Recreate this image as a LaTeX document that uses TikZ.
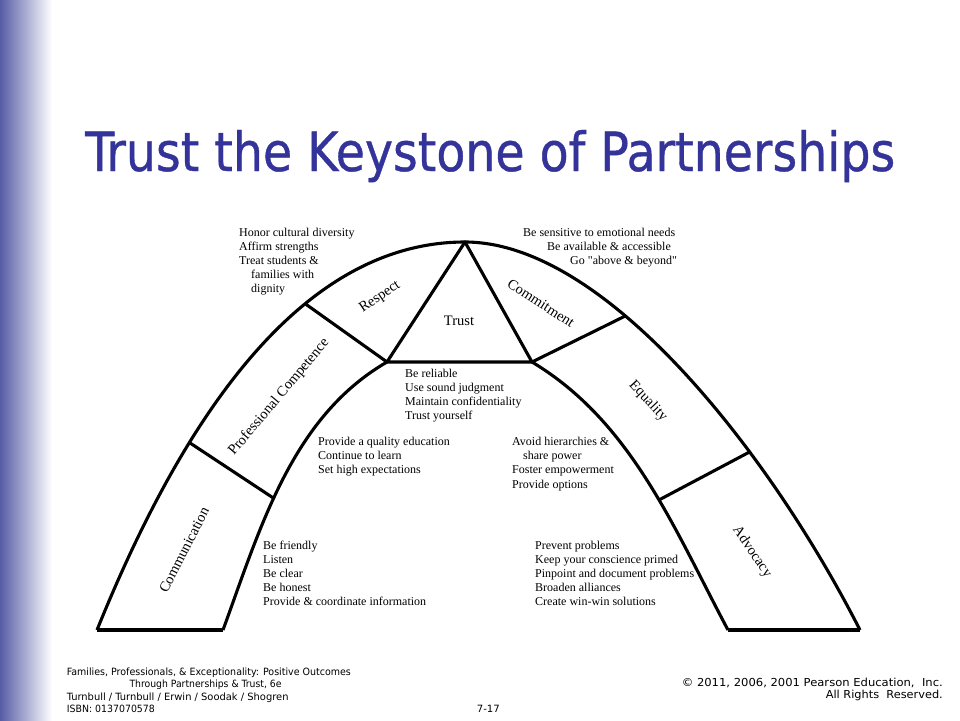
\documentclass[tikz,border=0pt]{standalone}
\usepackage{fontspec}
\usepackage{graphicx}
\setmainfont{Liberation Serif}
\IfFontExistsTF{DejaVu Sans Condensed}{\newfontfamily\sansf{DejaVu Sans Condensed}}{\newfontfamily\sansf{DejaVu Sans}}
\IfFontExistsTF{DejaVu Sans Condensed}{\newfontfamily\titlef[FakeBold=0.7]{DejaVu Sans Condensed}}{\newfontfamily\titlef[FakeBold=0.7]{DejaVu Sans}}
\newfontfamily\sansw{DejaVu Sans}
\definecolor{titleblue}{RGB}{51,51,153}
\definecolor{barblue}{RGB}{86,92,166}
\tikzset{
  archline/.style={line width=3.1pt, line join=round},
  dtext/.style={font=\fontsize{12}{14}\selectfont, inner sep=0pt, anchor=base west},
  lbl/.style={font=\fontsize{14.5}{16}\selectfont, inner sep=0pt},
  foot/.style={font=\sansf\fontsize{10}{12}\selectfont, inner sep=0pt},
  foottwo/.style={font=\sansw\fontsize{11}{12}\selectfont, inner sep=0pt},
}
\newcommand\fitw[2]{\resizebox{#1}{\height}{#2}}
\newcommand\tblock[4]{\foreach \tline [count=\i] in {#4}{\node[dtext] (#1\i) at (#2,{#3+14.2*(\i-1)}) {\tline};}}
\newcommand\sq{{\addfontfeatures{Ligatures=TeXOff}"}}
\begin{document}
\begin{tikzpicture}[x=1pt,y=-1pt]
\useasboundingbox (0,0) rectangle (960,720);
\fill[white] (0,0) rectangle (960,720);
\shade[left color=barblue, right color=white] (0,0) rectangle (52,720);

% title
\node[anchor=base west, inner sep=0pt, text=titleblue, font=\titlef\fontsize{54}{60}\selectfont] (title) at (85,171) {\fitw{810pt}{Trust the Keystone of Partnerships}};

% key points
\coordinate (oBL) at (97,630);
\coordinate (iBL) at (223,630);
\coordinate (oBR) at (860,630);
\coordinate (iBR) at (728,630);
\coordinate (apex) at (465,242);
\coordinate (tL) at (387,362);
\coordinate (tR) at (532,362);

% outer arch
\draw[archline] (oBL) .. controls (177.6,430.7) and (295,242) .. (apex)
  coordinate[pos=0.33] (oPC) coordinate[pos=0.65] (oRS);
\draw[archline] (apex) .. controls (605,242) and (769.2,451.8) .. (oBR)
  coordinate[pos=0.37] (oCM) coordinate[pos=0.67] (oAD);
% inner arch
\draw[archline] (iBL) .. controls (260.6,527) and (292,417) .. (tL)
  coordinate[pos=0.43] (iPC);
\draw[archline] (tR) .. controls (631.4,421.7) and (673.5,527.6) .. (iBR)
  coordinate[pos=0.57] (iAD);
% keystone
\draw[archline] (tL) -- (apex) -- (tR) -- cycle;
% bottoms
\draw[archline] (oBL) -- (iBL);
\draw[archline] (iBR) -- (oBR);
% dividers
\draw[archline] (oPC) -- (iPC);
\draw[archline] (oRS) -- (tL);
\draw[archline] (oCM) -- (tR);
\draw[archline] (oAD) -- (iAD);

% labels
\node[lbl] (trust) at (459,321) {Trust};
\node[lbl, rotate=34] (respect) at (380,297) {Respect};
\node[lbl, rotate=50] (profcomp) at (279,397) {Professional Competence};
\node[lbl, rotate=63] (comm) at (184,550) {Communication};
\node[lbl, rotate=-33] (commit) at (541,303) {Commitment};
\node[lbl, rotate=-47] (equal) at (648,401) {Equality};
\node[lbl, rotate=-56] (advoc) at (752,552) {Advocacy};

% text blocks
\tblock{resp}{239}{236}{Honor cultural diversity, Affirm strengths, Treat students \&, \hspace*{12pt}families with, \hspace*{12pt}dignity}
\tblock{cmt}{523}{236}{Be sensitive to emotional needs, \hspace*{24pt}Be available \& accessible, \hspace*{47pt}Go \sq above \& beyond\sq}
\tblock{tru}{405}{377}{Be reliable, Use sound judgment, Maintain confidentiality, Trust yourself}
\tblock{pc}{318}{445.5}{Provide a quality education, Continue to learn, Set high expectations}
\tblock{eq}{512}{445.5}{Avoid hierarchies \&, \hspace*{11pt}share power, Foster empowerment, Provide options}
\tblock{com}{263}{549}{Be friendly, Listen, Be clear, Be honest, Provide \& coordinate information}
\tblock{adv}{535}{549}{Prevent problems, Keep your conscience primed, Pinpoint and document problems, Broaden alliances, Create win-win solutions}

% footer
\node[foot, anchor=base west] (f1) at (66.7,675) {\fitw{284pt}{Families, Professionals, \& Exceptionality: Positive Outcomes}};
\node[foot, anchor=base west] (f2) at (129.3,687.5) {\fitw{152pt}{Through Partnerships \& Trust, 6e}};
\node[foot, anchor=base west] (f3) at (66.7,700) {\fitw{221.7pt}{Turnbull / Turnbull / Erwin / Soodak / Shogren}};
\node[foot, anchor=base west] (f4) at (66.7,712.5) {\fitw{88pt}{ISBN: 0137070578}};
\node[foot, anchor=base east] (pg) at (500,712.5) {\fitw{23pt}{7-17}};
\node[foottwo, anchor=base east] (c1) at (943,686.5) {\fitw{261pt}{© 2011, 2006, 2001 Pearson Education,\ \ Inc.}};
\node[foottwo, anchor=base east] (c2) at (943,698.5) {\fitw{117pt}{All Rights\ \ Reserved.}};
\end{tikzpicture}
\end{document}
